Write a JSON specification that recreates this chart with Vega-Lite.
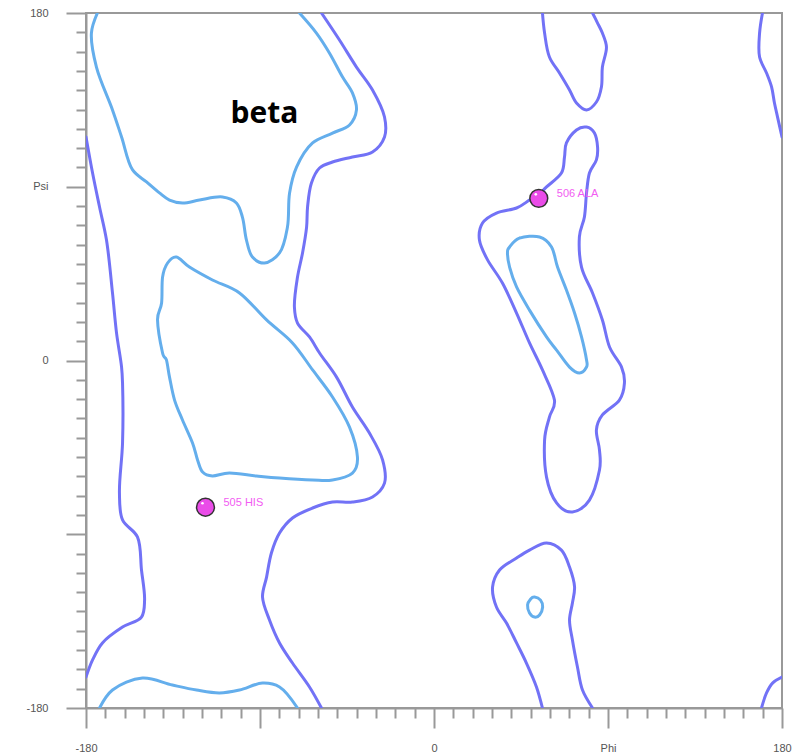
{
  "$schema": "https://vega.github.io/schema/vega-lite/v6.json",
  "width": 696,
  "height": 695,
  "autosize": "none",
  "padding": {"left": 86, "top": 13, "right": 12, "bottom": 47},
  "config": {"view": {"stroke": "#999999", "strokeWidth": 2}, "font": "Liberation Sans"},
  "datasets": {
    "open": [
      {"p":"A","lv":"i","i":0,"phi":-174.1,"psi":180},
      {"p":"A","lv":"i","i":1,"phi":-177.2,"psi":169.6},
      {"p":"A","lv":"i","i":2,"phi":-174.6,"psi":152.0},
      {"p":"A","lv":"i","i":3,"phi":-166.3,"psi":129.8},
      {"p":"A","lv":"i","i":4,"phi":-161.6,"psi":115.8},
      {"p":"A","lv":"i","i":5,"phi":-155.9,"psi":98.7},
      {"p":"A","lv":"i","i":6,"phi":-148.7,"psi":92.5},
      {"p":"A","lv":"i","i":7,"phi":-142.0,"psi":86.8},
      {"p":"A","lv":"i","i":8,"phi":-136.8,"psi":83.1},
      {"p":"A","lv":"i","i":9,"phi":-130.1,"psi":81.6},
      {"p":"A","lv":"i","i":10,"phi":-121.3,"psi":83.1},
      {"p":"A","lv":"i","i":11,"phi":-109.4,"psi":84.7},
      {"p":"A","lv":"i","i":12,"phi":-102.2,"psi":81.6},
      {"p":"A","lv":"i","i":13,"phi":-99.1,"psi":74.3},
      {"p":"A","lv":"i","i":14,"phi":-97.0,"psi":62.4},
      {"p":"A","lv":"i","i":15,"phi":-93.9,"psi":53.6},
      {"p":"A","lv":"i","i":16,"phi":-87.7,"psi":50.5},
      {"p":"A","lv":"i","i":17,"phi":-79.9,"psi":55.7},
      {"p":"A","lv":"i","i":18,"phi":-75.8,"psi":69.1},
      {"p":"A","lv":"i","i":19,"phi":-74.7,"psi":86.8},
      {"p":"A","lv":"i","i":20,"phi":-71.1,"psi":100.2},
      {"p":"A","lv":"i","i":21,"phi":-62.8,"psi":112.7},
      {"p":"A","lv":"i","i":22,"phi":-52.5,"psi":117.8},
      {"p":"A","lv":"i","i":23,"phi":-43.7,"psi":122.0},
      {"p":"A","lv":"i","i":24,"phi":-40.1,"psi":129.8},
      {"p":"A","lv":"i","i":25,"phi":-42.2,"psi":138.6},
      {"p":"A","lv":"i","i":26,"phi":-47.3,"psi":146.8},
      {"p":"A","lv":"i","i":27,"phi":-54.1,"psi":159.3},
      {"p":"A","lv":"i","i":28,"phi":-60.8,"psi":169.6},
      {"p":"A","lv":"i","i":29,"phi":-69.6,"psi":180},
      {"p":"C","lv":"i","i":0,"phi":-173.0,"psi":-180},
      {"p":"C","lv":"i","i":1,"phi":-166.3,"psi":-170.7},
      {"p":"C","lv":"i","i":2,"phi":-150.8,"psi":-164.5},
      {"p":"C","lv":"i","i":3,"phi":-135.3,"psi":-168.1},
      {"p":"C","lv":"i","i":4,"phi":-122.8,"psi":-170.7},
      {"p":"C","lv":"i","i":5,"phi":-111.0,"psi":-172.2},
      {"p":"C","lv":"i","i":6,"phi":-100.6,"psi":-170.7},
      {"p":"C","lv":"i","i":7,"phi":-88.7,"psi":-167.1},
      {"p":"C","lv":"i","i":8,"phi":-79.9,"psi":-169.1},
      {"p":"C","lv":"i","i":9,"phi":-70.6,"psi":-180},
      {"p":"D","lv":"o","i":0,"phi":-180,"psi":115.8},
      {"p":"D","lv":"o","i":1,"phi":-176.6,"psi":97.1},
      {"p":"D","lv":"o","i":2,"phi":-173.0,"psi":79.5},
      {"p":"D","lv":"o","i":3,"phi":-169.4,"psi":62.4},
      {"p":"D","lv":"o","i":4,"phi":-166.3,"psi":35.0},
      {"p":"D","lv":"o","i":5,"phi":-164.2,"psi":14.2},
      {"p":"D","lv":"o","i":6,"phi":-161.6,"psi":-3.4},
      {"p":"D","lv":"o","i":7,"phi":-161.1,"psi":-11.7},
      {"p":"D","lv":"o","i":8,"phi":-161.1,"psi":-42.7},
      {"p":"D","lv":"o","i":9,"phi":-162.7,"psi":-68.6},
      {"p":"D","lv":"o","i":10,"phi":-161.1,"psi":-82.6},
      {"p":"D","lv":"o","i":11,"phi":-153.4,"psi":-91.4},
      {"p":"D","lv":"o","i":12,"phi":-151.3,"psi":-108.5},
      {"p":"D","lv":"o","i":13,"phi":-149.7,"psi":-124.1},
      {"p":"D","lv":"o","i":14,"phi":-151.3,"psi":-132.9},
      {"p":"D","lv":"o","i":15,"phi":-161.1,"psi":-138.1},
      {"p":"D","lv":"o","i":16,"phi":-171.5,"psi":-146.3},
      {"p":"D","lv":"o","i":17,"phi":-176.6,"psi":-155.1},
      {"p":"D","lv":"o","i":18,"phi":-180,"psi":-164.0},
      {"p":"E","lv":"o","i":0,"phi":-58.2,"psi":180},
      {"p":"E","lv":"o","i":1,"phi":-48.9,"psi":166.0},
      {"p":"E","lv":"o","i":2,"phi":-40.1,"psi":152.0},
      {"p":"E","lv":"o","i":3,"phi":-31.8,"psi":140.1},
      {"p":"E","lv":"o","i":4,"phi":-25.6,"psi":126.1},
      {"p":"E","lv":"o","i":5,"phi":-25.6,"psi":115.8},
      {"p":"E","lv":"o","i":6,"phi":-31.8,"psi":108.0},
      {"p":"E","lv":"o","i":7,"phi":-42.2,"psi":105.4},
      {"p":"E","lv":"o","i":8,"phi":-52.5,"psi":102.8},
      {"p":"E","lv":"o","i":9,"phi":-59.2,"psi":99.7},
      {"p":"E","lv":"o","i":10,"phi":-63.4,"psi":91.9},
      {"p":"E","lv":"o","i":11,"phi":-65.4,"psi":79.5},
      {"p":"E","lv":"o","i":12,"phi":-65.9,"psi":69.1},
      {"p":"E","lv":"o","i":13,"phi":-68.0,"psi":55.7},
      {"p":"E","lv":"o","i":14,"phi":-70.6,"psi":43.2},
      {"p":"E","lv":"o","i":15,"phi":-72.2,"psi":27.7},
      {"p":"E","lv":"o","i":16,"phi":-70.6,"psi":19.4},
      {"p":"E","lv":"o","i":17,"phi":-64.4,"psi":12.2},
      {"p":"E","lv":"o","i":18,"phi":-59.2,"psi":3.9},
      {"p":"E","lv":"o","i":19,"phi":-50.4,"psi":-8.6},
      {"p":"E","lv":"o","i":20,"phi":-42.2,"psi":-24.1},
      {"p":"E","lv":"o","i":21,"phi":-33.4,"psi":-37.6},
      {"p":"E","lv":"o","i":22,"phi":-26.6,"psi":-51.5},
      {"p":"E","lv":"o","i":23,"phi":-25.6,"psi":-63.5},
      {"p":"E","lv":"o","i":24,"phi":-31.8,"psi":-70.7},
      {"p":"E","lv":"o","i":25,"phi":-42.2,"psi":-73.3},
      {"p":"E","lv":"o","i":26,"phi":-52.5,"psi":-73.3},
      {"p":"E","lv":"o","i":27,"phi":-62.8,"psi":-76.4},
      {"p":"E","lv":"o","i":28,"phi":-73.2,"psi":-81.6},
      {"p":"E","lv":"o","i":29,"phi":-79.9,"psi":-89.4},
      {"p":"E","lv":"o","i":30,"phi":-84.1,"psi":-99.7},
      {"p":"E","lv":"o","i":31,"phi":-86.6,"psi":-112.2},
      {"p":"E","lv":"o","i":32,"phi":-88.7,"psi":-122.5},
      {"p":"E","lv":"o","i":33,"phi":-85.1,"psi":-134.4},
      {"p":"E","lv":"o","i":34,"phi":-79.9,"psi":-146.3},
      {"p":"E","lv":"o","i":35,"phi":-73.2,"psi":-156.7},
      {"p":"E","lv":"o","i":36,"phi":-64.4,"psi":-169.1},
      {"p":"E","lv":"o","i":37,"phi":-58.2,"psi":-180},
      {"p":"F","lv":"o","i":0,"phi":56.1,"psi":180},
      {"p":"F","lv":"o","i":1,"phi":57.2,"psi":169.6},
      {"p":"F","lv":"o","i":2,"phi":59.7,"psi":157.2},
      {"p":"F","lv":"o","i":3,"phi":64.9,"psi":148.9},
      {"p":"F","lv":"o","i":4,"phi":70.1,"psi":140.1},
      {"p":"F","lv":"o","i":5,"phi":73.7,"psi":133.4},
      {"p":"F","lv":"o","i":6,"phi":78.9,"psi":129.8},
      {"p":"F","lv":"o","i":7,"phi":84.0,"psi":133.9},
      {"p":"F","lv":"o","i":8,"phi":86.6,"psi":141.7},
      {"p":"F","lv":"o","i":9,"phi":87.1,"psi":152.0},
      {"p":"F","lv":"o","i":10,"phi":89.2,"psi":162.4},
      {"p":"F","lv":"o","i":11,"phi":87.1,"psi":169.6},
      {"p":"F","lv":"o","i":12,"phi":84.6,"psi":174.8},
      {"p":"F","lv":"o","i":13,"phi":82.0,"psi":180},
      {"p":"G","lv":"o","i":0,"phi":169.9,"psi":180},
      {"p":"G","lv":"o","i":1,"phi":168.4,"psi":169.6},
      {"p":"G","lv":"o","i":2,"phi":168.4,"psi":157.2},
      {"p":"G","lv":"o","i":3,"phi":172.0,"psi":148.9},
      {"p":"G","lv":"o","i":4,"phi":174.6,"psi":141.7},
      {"p":"G","lv":"o","i":5,"phi":176.1,"psi":133.4},
      {"p":"G","lv":"o","i":6,"phi":177.7,"psi":126.1},
      {"p":"G","lv":"o","i":7,"phi":180,"psi":115.8},
      {"p":"J","lv":"o","i":0,"phi":56.1,"psi":-180},
      {"p":"J","lv":"o","i":1,"phi":53.0,"psi":-169.1},
      {"p":"J","lv":"o","i":2,"phi":47.8,"psi":-156.7},
      {"p":"J","lv":"o","i":3,"phi":42.7,"psi":-146.3},
      {"p":"J","lv":"o","i":4,"phi":37.5,"psi":-136.0},
      {"p":"J","lv":"o","i":5,"phi":32.3,"psi":-127.7},
      {"p":"J","lv":"o","i":6,"phi":30.3,"psi":-117.3},
      {"p":"J","lv":"o","i":7,"phi":33.9,"psi":-108.5},
      {"p":"J","lv":"o","i":8,"phi":42.7,"psi":-102.3},
      {"p":"J","lv":"o","i":9,"phi":49.4,"psi":-98.2},
      {"p":"J","lv":"o","i":10,"phi":58.2,"psi":-94.5},
      {"p":"J","lv":"o","i":11,"phi":65.9,"psi":-98.2},
      {"p":"J","lv":"o","i":12,"phi":70.1,"psi":-107.0},
      {"p":"J","lv":"o","i":13,"phi":72.7,"psi":-117.3},
      {"p":"J","lv":"o","i":14,"phi":71.6,"psi":-125.6},
      {"p":"J","lv":"o","i":15,"phi":70.1,"psi":-134.4},
      {"p":"J","lv":"o","i":16,"phi":71.6,"psi":-144.8},
      {"p":"J","lv":"o","i":17,"phi":74.2,"psi":-158.8},
      {"p":"J","lv":"o","i":18,"phi":76.8,"psi":-170.7},
      {"p":"J","lv":"o","i":19,"phi":82.0,"psi":-180},
      {"p":"L","lv":"o","i":0,"phi":169.4,"psi":-180},
      {"p":"L","lv":"o","i":1,"phi":172.0,"psi":-172.2},
      {"p":"L","lv":"o","i":2,"phi":175.1,"psi":-167.1},
      {"p":"L","lv":"o","i":3,"phi":180,"psi":-164.0}
    ],
    "closed": [
      {"p":"B","lv":"i","i":0,"phi":-133.2,"psi":53.6},
      {"p":"B","lv":"i","i":1,"phi":-126.5,"psi":48.4},
      {"p":"B","lv":"i","i":2,"phi":-114.6,"psi":41.7},
      {"p":"B","lv":"i","i":3,"phi":-100.6,"psi":35.0},
      {"p":"B","lv":"i","i":4,"phi":-86.6,"psi":21.0},
      {"p":"B","lv":"i","i":5,"phi":-73.2,"psi":9.1},
      {"p":"B","lv":"i","i":6,"phi":-62.8,"psi":-4.9},
      {"p":"B","lv":"i","i":7,"phi":-52.5,"psi":-18.9},
      {"p":"B","lv":"i","i":8,"phi":-43.7,"psi":-34.5},
      {"p":"B","lv":"i","i":9,"phi":-39.6,"psi":-50.0},
      {"p":"B","lv":"i","i":10,"phi":-42.2,"psi":-58.3},
      {"p":"B","lv":"i","i":11,"phi":-52.5,"psi":-61.9},
      {"p":"B","lv":"i","i":12,"phi":-62.8,"psi":-61.9},
      {"p":"B","lv":"i","i":13,"phi":-79.9,"psi":-60.9},
      {"p":"B","lv":"i","i":14,"phi":-91.8,"psi":-59.8},
      {"p":"B","lv":"i","i":15,"phi":-105.8,"psi":-58.3},
      {"p":"B","lv":"i","i":16,"phi":-114.6,"psi":-59.8},
      {"p":"B","lv":"i","i":17,"phi":-119.7,"psi":-57.8},
      {"p":"B","lv":"i","i":18,"phi":-122.3,"psi":-51.5},
      {"p":"B","lv":"i","i":19,"phi":-124.9,"psi":-42.7},
      {"p":"B","lv":"i","i":20,"phi":-130.1,"psi":-30.8},
      {"p":"B","lv":"i","i":21,"phi":-134.2,"psi":-20.5},
      {"p":"B","lv":"i","i":22,"phi":-136.8,"psi":-8.6},
      {"p":"B","lv":"i","i":23,"phi":-138.4,"psi":0.3},
      {"p":"B","lv":"i","i":24,"phi":-140.4,"psi":3.9},
      {"p":"B","lv":"i","i":25,"phi":-143.0,"psi":21.0},
      {"p":"B","lv":"i","i":26,"phi":-140.9,"psi":29.8},
      {"p":"B","lv":"i","i":27,"phi":-140.4,"psi":43.2},
      {"p":"B","lv":"i","i":28,"phi":-137.8,"psi":50.5},
      {"p":"H","lv":"o","i":0,"phi":49.4,"psi":83.1},
      {"p":"H","lv":"o","i":1,"phi":42.7,"psi":79.0},
      {"p":"H","lv":"o","i":2,"phi":32.3,"psi":76.4},
      {"p":"H","lv":"o","i":3,"phi":25.1,"psi":71.2},
      {"p":"H","lv":"o","i":4,"phi":23.5,"psi":62.4},
      {"p":"H","lv":"o","i":5,"phi":27.7,"psi":52.1},
      {"p":"H","lv":"o","i":6,"phi":35.4,"psi":40.1},
      {"p":"H","lv":"o","i":7,"phi":42.7,"psi":24.6},
      {"p":"H","lv":"o","i":8,"phi":49.4,"psi":9.1},
      {"p":"H","lv":"o","i":9,"phi":56.1,"psi":-4.9},
      {"p":"H","lv":"o","i":10,"phi":62.3,"psi":-20.5},
      {"p":"H","lv":"o","i":11,"phi":59.7,"psi":-29.3},
      {"p":"H","lv":"o","i":12,"phi":57.2,"psi":-41.2},
      {"p":"H","lv":"o","i":13,"phi":58.2,"psi":-60.4},
      {"p":"H","lv":"o","i":14,"phi":63.4,"psi":-73.8},
      {"p":"H","lv":"o","i":15,"phi":71.6,"psi":-78.5},
      {"p":"H","lv":"o","i":16,"phi":80.4,"psi":-72.3},
      {"p":"H","lv":"o","i":17,"phi":85.6,"psi":-56.7},
      {"p":"H","lv":"o","i":18,"phi":85.6,"psi":-46.4},
      {"p":"H","lv":"o","i":19,"phi":84.0,"psi":-36.0},
      {"p":"H","lv":"o","i":20,"phi":87.1,"psi":-28.2},
      {"p":"H","lv":"o","i":21,"phi":95.9,"psi":-20.5},
      {"p":"H","lv":"o","i":22,"phi":98.5,"psi":-11.7},
      {"p":"H","lv":"o","i":23,"phi":97.0,"psi":-3.4},
      {"p":"H","lv":"o","i":24,"phi":90.8,"psi":7.0},
      {"p":"H","lv":"o","i":25,"phi":87.1,"psi":21.0},
      {"p":"H","lv":"o","i":26,"phi":82.0,"psi":35.0},
      {"p":"H","lv":"o","i":27,"phi":76.3,"psi":48.4},
      {"p":"H","lv":"o","i":28,"phi":75.2,"psi":64.0},
      {"p":"H","lv":"o","i":29,"phi":77.8,"psi":74.3},
      {"p":"H","lv":"o","i":30,"phi":78.9,"psi":86.8},
      {"p":"H","lv":"o","i":31,"phi":80.4,"psi":97.1},
      {"p":"H","lv":"o","i":32,"phi":84.0,"psi":103.9},
      {"p":"H","lv":"o","i":33,"phi":84.6,"psi":110.6},
      {"p":"H","lv":"o","i":34,"phi":83.0,"psi":117.8},
      {"p":"H","lv":"o","i":35,"phi":78.9,"psi":120.9},
      {"p":"H","lv":"o","i":36,"phi":73.7,"psi":119.4},
      {"p":"H","lv":"o","i":37,"phi":68.5,"psi":112.7},
      {"p":"H","lv":"o","i":38,"phi":67.5,"psi":105.4},
      {"p":"H","lv":"o","i":39,"phi":65.9,"psi":97.1},
      {"p":"H","lv":"o","i":40,"phi":58.2,"psi":89.9},
      {"p":"H","lv":"o","i":41,"phi":54.0,"psi":85.7},
      {"p":"I","lv":"i","i":0,"phi":39.1,"psi":58.8},
      {"p":"I","lv":"i","i":1,"phi":44.2,"psi":63.4},
      {"p":"I","lv":"i","i":2,"phi":54.6,"psi":64.0},
      {"p":"I","lv":"i","i":3,"phi":60.8,"psi":58.8},
      {"p":"I","lv":"i","i":4,"phi":63.9,"psi":48.4},
      {"p":"I","lv":"i","i":5,"phi":68.5,"psi":36.5},
      {"p":"I","lv":"i","i":6,"phi":72.7,"psi":24.6},
      {"p":"I","lv":"i","i":7,"phi":76.3,"psi":12.2},
      {"p":"I","lv":"i","i":8,"phi":78.9,"psi":0.3},
      {"p":"I","lv":"i","i":9,"phi":78.9,"psi":-3.4},
      {"p":"I","lv":"i","i":10,"phi":75.3,"psi":-6.5},
      {"p":"I","lv":"i","i":11,"phi":70.1,"psi":-3.4},
      {"p":"I","lv":"i","i":12,"phi":63.4,"psi":5.4},
      {"p":"I","lv":"i","i":13,"phi":58.2,"psi":12.2},
      {"p":"I","lv":"i","i":14,"phi":49.4,"psi":26.1},
      {"p":"I","lv":"i","i":15,"phi":42.7,"psi":38.1},
      {"p":"I","lv":"i","i":16,"phi":39.1,"psi":48.4},
      {"p":"I","lv":"i","i":17,"phi":38.0,"psi":55.7},
      {"p":"K","lv":"i","i":0,"phi":52.0,"psi":-122.5},
      {"p":"K","lv":"i","i":1,"phi":55.1,"psi":-124.1},
      {"p":"K","lv":"i","i":2,"phi":56.2,"psi":-127.7},
      {"p":"K","lv":"i","i":3,"phi":54.6,"psi":-131.8},
      {"p":"K","lv":"i","i":4,"phi":52.0,"psi":-132.9},
      {"p":"K","lv":"i","i":5,"phi":49.4,"psi":-130.8},
      {"p":"K","lv":"i","i":6,"phi":48.4,"psi":-126.6},
      {"p":"K","lv":"i","i":7,"phi":50.0,"psi":-123.5}
    ],
    "residues": [
      {"phi": -118.2, "psi": -76.0, "label": "505 HIS"},
      {"phi": 54.2, "psi": 84.0, "label": "506 ALA"}
    ],
    "regions": [
      {"phi": -87.7, "psi": 127.5, "label": "beta"}
    ]
  },
  "encoding": {
    "x": {
      "field": "phi", "type": "quantitative",
      "scale": {"domain": [-180, 180], "nice": false, "zero": false},
      "axis": {
        "orient": "bottom", "title": null, "grid": false,
        "values": [-180,-170,-160,-150,-140,-130,-120,-110,-100,-90,-80,-70,-60,-50,-40,-30,-20,-10,0,10,20,30,40,50,60,70,80,90,100,110,120,130,140,150,160,170,180],
        "tickSize": {"condition": {"test": "datum.value % 90 === 0", "value": 20}, "value": 10},
        "tickColor": "#999999", "tickWidth": 2,
        "domainColor": "#999999", "domainWidth": 2,
        "labelExpr": "datum.value === 90 ? 'Phi' : datum.value === -180 ? '-180' : datum.value === 0 ? '0' : datum.value === 180 ? '180' : ''",
        "labelColor": "#555555", "labelFontSize": 11, "labelPadding": 14,
        "labelFlush": false, "labelOverlap": false
      }
    },
    "y": {
      "field": "psi", "type": "quantitative",
      "scale": {"domain": [-180, 180], "nice": false, "zero": false},
      "axis": {
        "orient": "left", "title": null, "grid": false,
        "values": [-180,-170,-160,-150,-140,-130,-120,-110,-100,-90,-80,-70,-60,-50,-40,-30,-20,-10,0,10,20,30,40,50,60,70,80,90,100,110,120,130,140,150,160,170,180],
        "tickSize": {"condition": {"test": "datum.value % 90 === 0", "value": 20}, "value": 10},
        "tickColor": "#999999", "tickWidth": 2,
        "domainColor": "#999999", "domainWidth": 2,
        "labelExpr": "datum.value === 90 ? 'Psi' : datum.value === -180 ? '-180' : datum.value === 0 ? '0' : datum.value === 180 ? '180' : ''",
        "labelColor": "#555555", "labelFontSize": 11, "labelPadding": 18,
        "labelFlush": false, "labelOverlap": false
      }
    }
  },
  "layer": [
    {
      "data": {"name": "open"},
      "mark": {"type": "line", "interpolate": "catmull-rom", "strokeWidth": 3, "strokeCap": "round", "clip": true},
      "encoding": {
        "detail": {"field": "p"},
        "order": {"field": "i", "type": "quantitative"},
        "color": {"field": "lv", "type": "nominal", "scale": {"domain": ["o", "i"], "range": ["#7272f6", "#64aeec"]}, "legend": null}
      }
    },
    {
      "data": {"name": "closed"},
      "mark": {"type": "line", "interpolate": "cardinal-closed", "strokeWidth": 3, "strokeCap": "round", "clip": true},
      "encoding": {
        "detail": {"field": "p"},
        "order": {"field": "i", "type": "quantitative"},
        "color": {"field": "lv", "type": "nominal", "scale": {"domain": ["o", "i"], "range": ["#7272f6", "#64aeec"]}, "legend": null}
      }
    },
    {
      "data": {"name": "regions"},
      "mark": {"type": "text", "font": "Open Sans", "fontWeight": "bold", "fontSize": 30, "color": "#000000", "align": "center", "baseline": "middle"},
      "encoding": {"text": {"field": "label"}}
    },
    {
      "data": {"name": "residues"},
      "mark": {"type": "point", "shape": "circle", "filled": true, "size": 320, "fill": "#ea4ce8", "stroke": "#333333", "strokeWidth": 1.5, "opacity": 1}
    },
    {
      "data": {"name": "residues"},
      "mark": {"type": "point", "shape": "circle", "filled": true, "size": 7, "fill": "#ffffff", "opacity": 1, "xOffset": -3, "yOffset": -4}
    },
    {
      "data": {"name": "residues"},
      "mark": {"type": "text", "align": "left", "baseline": "middle", "dx": 18, "dy": -4.5, "fontSize": 11, "color": "#f25cf2"},
      "encoding": {"text": {"field": "label"}}
    }
  ]
}
